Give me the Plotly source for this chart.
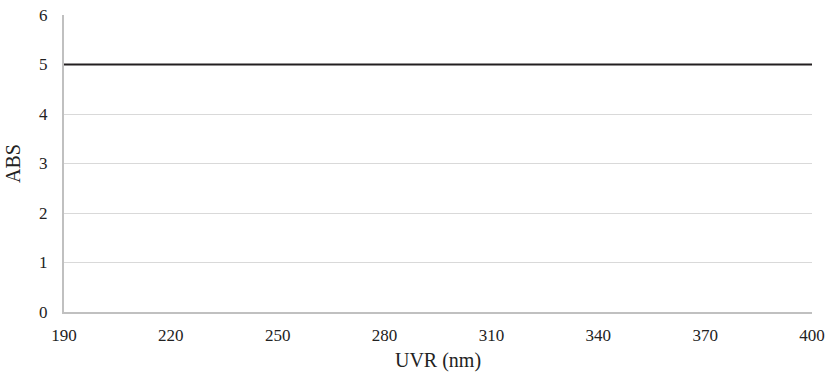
import plotly.graph_objects as go

# Absorbance spectrum (detector saturated across the UV range)
wavelength_nm = [190, 220, 250, 280, 310, 340, 370, 400]
absorbance = [5.0, 5.0, 5.0, 5.0, 5.0, 5.0, 5.0, 5.0]

x_ticks = [190, 220, 250, 280, 310, 340, 370, 400]
y_ticks = [0, 1, 2, 3, 4, 5, 6]

fig = go.Figure()
fig.add_trace(go.Scatter(
    x=wavelength_nm, y=absorbance, mode="lines",
    line=dict(color="#231f20", width=2),
    showlegend=False, hoverinfo="skip",
))

font = dict(family="Liberation Serif", size=17, color="#222222")

fig.update_layout(
    width=826, height=376,
    margin=dict(l=64, r=14, t=15, b=64),
    paper_bgcolor="white", plot_bgcolor="white",
    font=font,
)
fig.update_xaxes(
    range=[190, 400], tickvals=x_ticks, ticktext=[str(v) for v in x_ticks],
    showgrid=False, zeroline=False, automargin=False,
    showline=True, linecolor="#c0c0c0", linewidth=2,
    ticks="", ticklabelstandoff=7,
    title=dict(text="UVR (nm)", standoff=9),
)
fig.update_yaxes(
    range=[0, 6], tickvals=y_ticks, automargin=False,
    showgrid=True, gridcolor="#d9d9d9", gridwidth=1,
    zeroline=False,
    showline=True, linecolor="#c0c0c0", linewidth=2,
    ticks="", ticklabelstandoff=11,
    title=dict(text="ABS", standoff=13),
)

fig.write_html("out.html")
